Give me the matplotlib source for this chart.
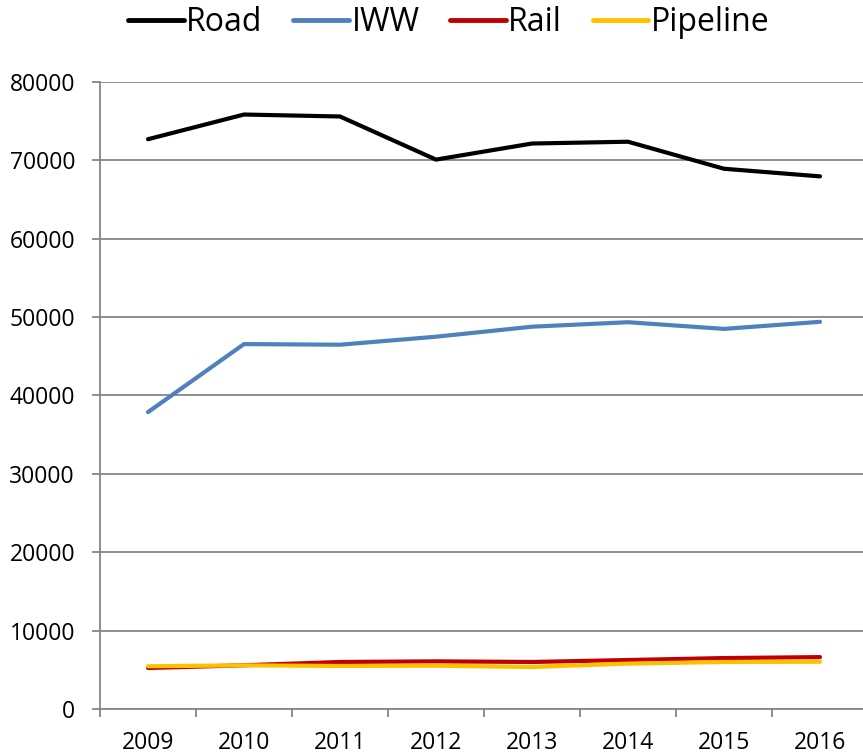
import matplotlib

matplotlib.use("Agg")
import matplotlib.pyplot as plt
from matplotlib.ticker import FixedLocator, NullFormatter

plt.rcParams["font.family"] = ["Open Sans", "DejaVu Sans"]

years = ["2009", "2010", "2011", "2012", "2013", "2014", "2015", "2016"]
road = [72700, 75850, 75600, 70100, 72150, 72380, 68930, 67960]
iww = [37880, 46560, 46480, 47500, 48780, 49350, 48500, 49400]
rail = [5230, 5580, 6000, 6080, 6000, 6250, 6500, 6620]
pipeline = [5450, 5570, 5490, 5520, 5360, 5790, 6000, 6030]

# (label, values, colour), drawn in this order so pipeline sits on top
series = [
    ("Road", road, "#000000"),
    ("IWW", iww, "#4F81BD"),
    ("Rail", rail, "#C00000"),
    ("Pipeline", pipeline, "#FFC000"),
]

grey = "#868686"

fig = plt.figure(figsize=(8.63, 7.55), dpi=100)
ax = fig.add_axes([100 / 863, 1 - 709 / 755, 768 / 863, 627 / 755])

x = list(range(len(years)))
for name, vals, color in series:
    ax.plot(x, vals, color=color, linewidth=3.0, label=name,
            solid_capstyle="round", solid_joinstyle="miter")

ax.set_xlim(-0.5, len(years) - 0.5)
ax.set_ylim(0, 80000)
ax.set_yticks(range(0, 80001, 10000))
ax.grid(axis="y", color=grey, linewidth=1.3)
ax.set_axisbelow(True)

ax.set_xticks(x)
ax.set_xticklabels(years)
ax.xaxis.set_minor_locator(FixedLocator([i - 0.5 for i in range(len(years) + 1)]))
ax.xaxis.set_minor_formatter(NullFormatter())
ax.tick_params(axis="x", which="major", length=0, pad=15.5, labelsize=16.5)
ax.tick_params(axis="x", which="minor", length=6, width=1.3, color=grey)
ax.tick_params(axis="y", length=6, width=1.3, color=grey, pad=12, labelsize=16.5)

for side in ("top", "right"):
    ax.spines[side].set_visible(False)
for side in ("left", "bottom"):
    ax.spines[side].set_color(grey)
    ax.spines[side].set_linewidth(1.3)

leg = fig.legend(loc="upper center", bbox_to_anchor=(0.52, 1.03), ncol=4,
                 frameon=False, fontsize=23, handlelength=1.75,
                 handletextpad=0.08, columnspacing=0.95)
for line in leg.get_lines():
    line.set_linewidth(3.5)

fig.savefig("out.png", dpi=100)
